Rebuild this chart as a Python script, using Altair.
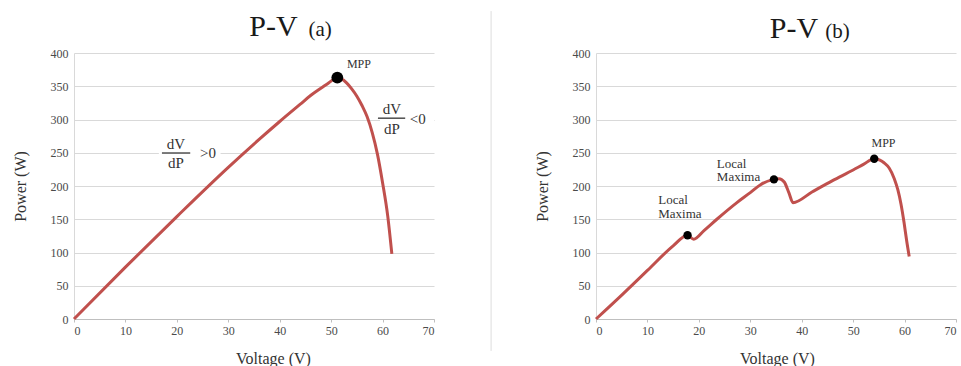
import altair as alt
import pandas as pd

# ---------------- data: panel (a) ----------------
volt_a = [0, 10, 20, 30, 36, 40, 44, 46, 48, 49.5, 50.5, 51.2, 52, 53, 54, 55, 56, 57, 58, 59, 60, 61, 61.8]
power_a = [0, 78, 154, 228, 270, 297, 323, 336, 347, 355, 360.5, 362.5, 361, 355, 346, 335, 321, 304, 280, 248, 205, 155, 98]
mpp_a_v = [51.2]
mpp_a_p = [363]

# ---------------- data: panel (b) ----------------
volt_b = [0, 5, 10, 15, 17.8, 19.0, 21, 23.5, 27.4, 30, 32, 34.6, 35.6, 36.6, 37.5, 38.3,
          42, 46, 50, 52, 54.1, 55.2, 56, 57, 58, 58.7, 59.3, 59.9, 60.4, 60.9]
power_b = [0, 36, 73, 110, 126, 120, 133, 150, 175, 190, 202, 210, 211, 206, 190, 175,
           191, 208, 224, 232.5, 241, 239, 235, 227, 211, 194, 173, 145, 118, 94]
peak_b_v = [17.8, 34.6, 54.1]
peak_b_p = [126, 210, 241]

x_ticks = [0, 10, 20, 30, 40, 50, 60, 70]
y_ticks = [0, 50, 100, 150, 200, 250, 300, 350, 400]

title_main = ["P-V", "P-V"]
title_sub = ["(a)", "(b)"]
frac_num = "dV"
frac_den = "dP"

FONT = "Liberation Serif"
AXFONT = "'Liberation Serif', 'Times New Roman', serif"
RED = "#c0504d"
W, H = 360, 266


def make_enc(title_x):
    x = alt.X(
        "V:Q",
        scale=alt.Scale(domain=[0, 70], nice=False),
        axis=alt.Axis(
            values=x_ticks, title="Voltage (V)", grid=False,
            domainColor="#bfbfbf", tickColor="#bfbfbf", tickSize=3,
            labelFont=AXFONT, labelFontSize=12, labelColor="#4a4a4a", labelPadding=3,
            titleFont=AXFONT, titleFontSize=16, titleColor="#333333", titleFontWeight="normal",
            titleX=title_x, titleY=39, titleBaseline="middle", titleAlign="center",
        ),
    )
    y = alt.Y(
        "P:Q",
        scale=alt.Scale(domain=[0, 400], nice=False),
        axis=alt.Axis(
            values=y_ticks, title="Power (W)", grid=True, gridColor="#d9d9d9",
            domainColor="#d9d9d9", ticks=False,
            labelFont=AXFONT, labelFontSize=12, labelColor="#4a4a4a", labelPadding=6,
            titleFont=AXFONT, titleFontSize=16, titleColor="#333333", titleFontWeight="normal",
            titleX=-54, titleY=H / 2, titleAngle=270, titleBaseline="middle", titleAlign="center",
        ),
    )
    return x, y


def build_panel(title_x):
    X, Y = make_enc(title_x)

    def text_layer(df, size, align="center", color="#333333", baseline="middle"):
        return alt.Chart(df).mark_text(
            font=FONT, fontSize=size, align=align, baseline=baseline, color=color
        ).encode(x=X, y=Y, text="t:N")

    return X, Y, text_layer


# ---------------- panel (a) ----------------
Xa, Ya, txt_a = build_panel(199)
curve_a = pd.DataFrame({"V": volt_a, "P": power_a})
dot_a = pd.DataFrame({"V": mpp_a_v, "P": mpp_a_p})

mask_a = pd.DataFrame({"V": [16.5, 59.5], "V2": [28.5, 70.0], "P": [244, 295], "P2": [256, 306]})
masks_a = alt.Chart(mask_a).mark_rect(color="white").encode(x=Xa, x2="V2:Q", y=Ya, y2="P2:Q")

line_a = alt.Chart(curve_a).mark_line(color=RED, strokeWidth=3, interpolate="monotone").encode(x=Xa, y=Ya)
pt_a = alt.Chart(dot_a).mark_circle(color="black", size=140, opacity=1).encode(x=Xa, y=Ya)

bars_a = pd.DataFrame({"V": [17.1, 59.1], "V2": [22.6, 64.4], "P": [249.6, 302]})
frac_bars_a = alt.Chart(bars_a).mark_rule(color="#333333", strokeWidth=1.3).encode(x=Xa, x2="V2:Q", y=Ya)
frac_txt_a = txt_a(pd.DataFrame({
    "V": [19.8, 19.8, 61.8, 61.8], "P": [263, 235, 315.5, 286],
    "t": [frac_num, frac_den, frac_num, frac_den]}), 15)
sign_txt_a = txt_a(pd.DataFrame({"V": [24.5, 65.3], "P": [250, 301], "t": [">0", "<0"]}), 15, "left")
mpp_txt_a = txt_a(pd.DataFrame({"V": [55.4], "P": [383.5], "t": ["MPP"]}), 12)

divider = alt.Chart(pd.DataFrame({"V": [81.1], "P": [463], "P2": [-48]})).mark_rule(
    color="#dddddd", strokeWidth=1).encode(x=Xa, y=Ya, y2="P2:Q")

ttl_a = txt_a(pd.DataFrame({"V": [38.8], "P": [425.6], "t": [title_main[0]]}), 30, "center", "#1a1a1a", "alphabetic")
ttl_a2 = txt_a(pd.DataFrame({"V": [45.6], "P": [425.6], "t": [title_sub[0]]}), 21, "left", "#1a1a1a", "alphabetic")

panel_a = alt.layer(masks_a, line_a, pt_a, frac_bars_a, frac_txt_a, sign_txt_a,
                    mpp_txt_a, divider, ttl_a, ttl_a2).properties(width=W, height=H)

# ---------------- panel (b) ----------------
Xb, Yb, txt_b = build_panel(181)
curve_b = pd.DataFrame({"V": volt_b, "P": power_b})
dots_b = pd.DataFrame({"V": peak_b_v, "P": peak_b_p})
line_b = alt.Chart(curve_b).mark_line(color=RED, strokeWidth=3, interpolate="monotone").encode(x=Xb, y=Yb)
pt_b = alt.Chart(dots_b).mark_circle(color="black", size=70, opacity=1).encode(x=Xb, y=Yb)
lbl_b = txt_b(pd.DataFrame({
    "V": [12.1, 12.1, 23.5, 23.5], "P": [179.5, 158.5, 233.4, 213.4],
    "t": ["Local", "Maxima", "Local", "Maxima"]}), 13, "left")
mpp_txt_b = txt_b(pd.DataFrame({"V": [55.9], "P": [265], "t": ["MPP"]}), 12)

ttl_b = txt_b(pd.DataFrame({"V": [38.5], "P": [422.8], "t": [title_main[1]]}), 30, "center", "#1a1a1a", "alphabetic")
ttl_b2 = txt_b(pd.DataFrame({"V": [44.6], "P": [422.8], "t": [title_sub[1]]}), 21, "left", "#1a1a1a", "alphabetic")

panel_b = alt.layer(line_b, pt_b, lbl_b, mpp_txt_b, ttl_b, ttl_b2).properties(width=W, height=H)

chart = alt.hconcat(panel_a, panel_b, spacing=162, bounds="flush").properties(
    padding={"left": 12, "top": 10, "right": 0, "bottom": 0}
).configure(
    background="white", font=AXFONT
).configure_view(strokeWidth=0).configure_axis(
    labelFont=AXFONT, titleFont=AXFONT
)

chart.save("out.html", embed_options={"renderer": "svg", "actions": False})
